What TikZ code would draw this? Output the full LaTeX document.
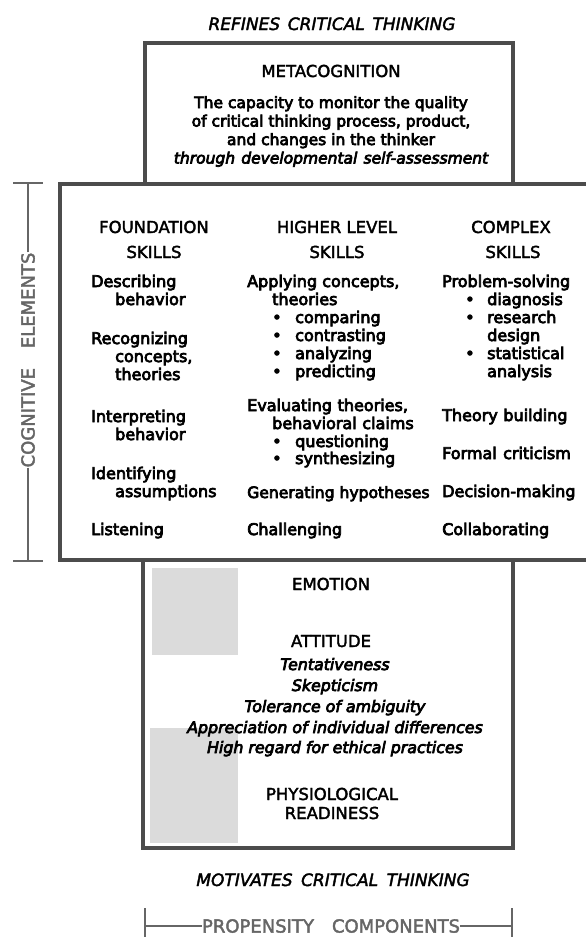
\documentclass[tikz,border=0pt]{standalone}
\usepackage{fontspec}
\setmainfont{DejaVu Sans}
\newfontfamily\semib[FakeBold=4.5]{DejaVu Sans}
\newfontfamily\medf[FakeBold=2.2]{DejaVu Sans}
\definecolor{framec}{gray}{0.3}
\definecolor{labc}{gray}{0.4}
\definecolor{patchc}{gray}{0.86}
\begin{document}
\begin{tikzpicture}[x=1pt,y=-1pt,
  boxline/.style={draw=framec,line width=3.2pt},
  brk/.style={draw=labc,line width=1.3pt},
  itm/.style={inner sep=0pt,anchor=base west,font=\semib\fontsize{16}{18}\selectfont},
  hdr/.style={inner sep=0pt,anchor=base,font=\medf\fontsize{16.5}{20}\selectfont},
  desc/.style={inner sep=0pt,anchor=base,font=\semib\fontsize{15.5}{18}\selectfont},
  att/.style={inner sep=0pt,anchor=base,font=\semib\itshape\fontsize{15.8}{18}\selectfont},
  captxt/.style={inner sep=0pt,anchor=base,font=\medf\itshape\fontsize{17}{20}\selectfont},
  glab/.style={inner sep=0pt,text=labc,font=\medf\fontsize{18}{20}\selectfont}]
\useasboundingbox (0,0) rectangle (586,937);
\fill[white] (0,0) rectangle (586,937);

% scan patches
\fill[patchc] (152,568) rectangle (238,655);
\fill[patchc] (150,728) rectangle (238,843);

% captions
\node[captxt] (refines) at (332,30) {REFINES\hspace{0.45em}CRITICAL\hspace{0.45em}THINKING};
\node[captxt] (motiv) at (333,886) {MOTIVATES\hspace{0.5em}CRITICAL\hspace{0.5em}THINKING};

% boxes
\draw[boxline] (145,184) -- (145,43) -- (513,43) -- (513,184);
\draw[boxline] (143,560) -- (143,848) -- (513,848) -- (513,560);
\draw[boxline] (595,184) -- (60,184) -- (60,560) -- (595,560);

% metacognition
\node[hdr] (meta) at (331,77) {METACOGNITION};
\node[desc] (m1) at (331,108) {The capacity to monitor the quality};
\node[desc] (m2) at (331,126.5) {of critical thinking process, product,};
\node[desc] (m3) at (331,145) {and changes in the thinker};
\node[desc,font=\semib\itshape\fontsize{15.5}{18}\selectfont] (m4) at (331,163.5) {through\hspace{0.4em}developmental\hspace{0.4em}self-assessment};

% column headers
\node[hdr] (h1a) at (154,233) {FOUNDATION};
\node[hdr] (h1b) at (154,258) {SKILLS};
\node[hdr] (h2a) at (337,233) {HIGHER LEVEL};
\node[hdr] (h2b) at (337,258) {SKILLS};
\node[hdr] (h3a) at (511,233) {COMPLEX};
\node[hdr] (h3b) at (513,258) {SKILLS};

% foundation skills
\node[itm] (f1) at (91,287) {Describing};
\node[itm] (f2) at (115,305) {behavior};
\node[itm] (f3) at (91,344) {Recognizing};
\node[itm] (f4) at (115,362) {concepts,};
\node[itm] (f5) at (115,380) {theories};
\node[itm] (f6) at (91,422) {Interpreting};
\node[itm] (f7) at (115,440) {behavior};
\node[itm] (f8) at (91,479) {Identifying};
\node[itm] (f9) at (115,497) {assumptions};
\node[itm] (f10) at (91,535) {Listening};

% higher level skills
\node[itm] (g1) at (247,287) {Applying concepts,};
\node[itm] (g2) at (272,305) {theories};
\node[itm] (g3) at (272,323) {\makebox[23pt][l]{•}comparing};
\node[itm] (g4) at (272,341) {\makebox[23pt][l]{•}contrasting};
\node[itm] (g5) at (272,359) {\makebox[23pt][l]{•}analyzing};
\node[itm] (g6) at (272,377) {\makebox[23pt][l]{•}predicting};
\node[itm] (g7) at (247,411) {Evaluating\hspace{0.35em}theories,};
\node[itm] (g8) at (272,429) {behavioral\hspace{0.35em}claims};
\node[itm] (g9) at (272,447) {\makebox[23pt][l]{•}questioning};
\node[itm] (g10) at (272,464) {\makebox[23pt][l]{•}synthesizing};
\node[itm,font=\semib\fontsize{15.6}{18}\selectfont] (g11) at (247,498) {Generating hypotheses};
\node[itm] (g12) at (247,535) {Challenging};

% complex skills
\node[itm] (c1) at (442,287) {Problem-solving};
\node[itm] (c2) at (465,305) {\makebox[22pt][l]{•}diagnosis};
\node[itm] (c3) at (465,323) {\makebox[22pt][l]{•}research};
\node[itm] (c4) at (487,341) {design};
\node[itm] (c5) at (465,359) {\makebox[22pt][l]{•}statistical};
\node[itm] (c6) at (487,377) {analysis};
\node[itm] (c7) at (442,421) {Theory\hspace{0.35em}building};
\node[itm] (c8) at (442,459) {Formal\hspace{0.4em}criticism};
\node[itm] (c9) at (442,497) {Decision-making};
\node[itm] (c10) at (442,535) {Collaborating};

% propensity components
\node[hdr] (emo) at (331,590) {EMOTION};
\node[hdr] (atti) at (331,647) {ATTITUDE};
\node[att] (a1) at (335,670) {Tentativeness};
\node[att] (a2) at (335,691) {Skepticism};
\node[att] (a3) at (335,712) {Tolerance of ambiguity};
\node[att] (a4) at (335,733) {Appreciation of individual differences};
\node[att] (a5) at (335,753) {High regard for ethical practices};
\node[hdr] (phy1) at (332,800) {PHYSIOLOGICAL};
\node[hdr] (phy2) at (332,819) {READINESS};

% cognitive elements bracket
\node[glab,rotate=90] (cog) at (28,360) {COGNITIVE\hspace{1.1em}ELEMENTS};
\coordinate (ct) at (28,183);
\coordinate (cb) at (28,561);
\draw[brk] (cog.east) -- (ct);
\draw[brk] (cog.west) -- (cb);
\draw[brk] ([xshift=-15pt]ct) -- ([xshift=15pt]ct);
\draw[brk] ([xshift=-15pt]cb) -- ([xshift=15pt]cb);

% propensity bracket
\node[glab] (prop) at (331,926) {PROPENSITY\hspace{1em}COMPONENTS};
\coordinate (pl) at (145,926);
\coordinate (pr) at (512,926);
\draw[brk] (prop.west) -- (pl);
\draw[brk] (prop.east) -- (pr);
\draw[brk] (145,908) -- (145,940);
\draw[brk] (512,908) -- (512,940);
\end{tikzpicture}
\end{document}
